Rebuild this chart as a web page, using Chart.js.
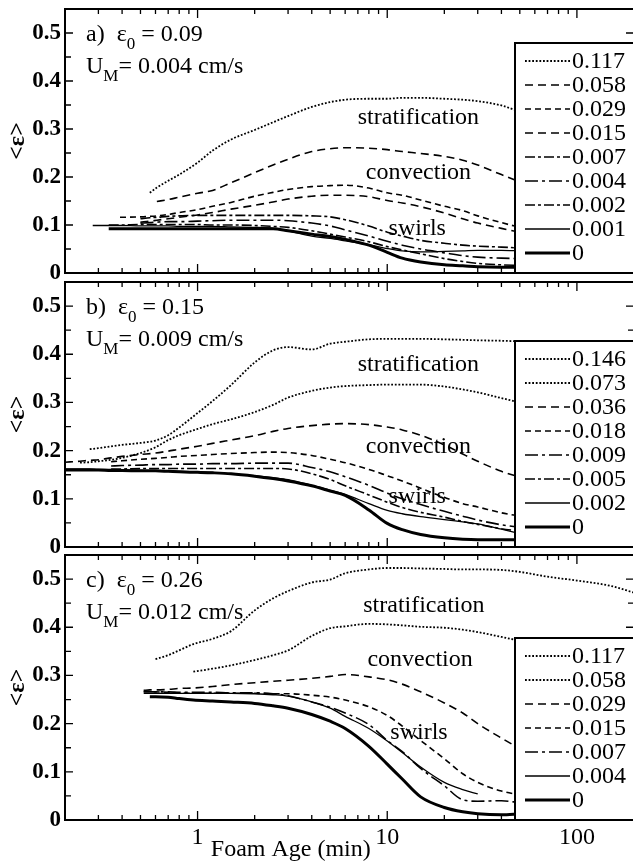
<!DOCTYPE html>
<html>
<head>
<meta charset="utf-8">
<script src="https://cdn.jsdelivr.net/npm/chart.js@4.4.1/dist/chart.umd.min.js"></script>
<style>
  html, body { margin: 0; padding: 0; background: #fff; overflow: hidden; }
  canvas { position: absolute; left: 0; top: 0; }
</style>
</head>
<body>
<canvas id="panelA" width="636" height="865"></canvas>
<canvas id="panelB" width="636" height="865"></canvas>
<canvas id="panelC" width="636" height="865"></canvas>
<script>
var n = null;

// ---- panel a: eps0 = 0.09, UM = 0.004 cm/s ----
var agesA = [0.28, 0.34, 0.39, 0.5, 0.56, 0.61, 0.7, 0.8, 1, 1.2, 1.5, 2, 2.5, 3, 4, 5, 6, 8, 10, 12, 15, 20, 25, 30, 40, 50];
var labelsA = ['0.117', '0.058', '0.029', '0.015', '0.007', '0.004', '0.002', '0.001', '0'];
var stylesA = ['dot', 'dashL', 'dash', 'dashL', 'dashDot', 'dashDotL', 'dashDot', 'thin', 'thick'];
var a117 = [n, n, n, n, 0.167, 0.178, 0.192, 0.205, 0.230, 0.255, 0.278, 0.298, 0.314, 0.327, 0.346, 0.356, 0.361, 0.363, 0.363, 0.365, 0.365, 0.363, 0.361, 0.358, 0.349, 0.336];
var a058 = [n, n, n, n, n, 0.149, 0.153, 0.158, 0.166, 0.172, 0.188, 0.209, 0.225, 0.237, 0.253, 0.259, 0.261, 0.260, 0.257, 0.253, 0.249, 0.243, 0.235, 0.225, 0.205, 0.190];
var a029 = [n, n, 0.116, 0.117, 0.118, 0.119, 0.122, 0.126, 0.132, 0.139, 0.147, 0.160, 0.168, 0.174, 0.180, 0.182, 0.183, 0.177, 0.167, 0.162, 0.152, 0.139, 0.130, 0.119, 0.105, 0.095];
var a015 = [n, n, n, 0.106, 0.108, 0.110, 0.113, 0.116, 0.121, 0.126, 0.133, 0.141, 0.148, 0.154, 0.160, 0.162, 0.162, 0.159, 0.151, 0.146, 0.138, 0.125, 0.113, 0.104, 0.093, 0.085];
var a007 = [n, n, n, 0.113, 0.115, 0.116, 0.118, 0.119, 0.120, 0.120, 0.120, 0.120, 0.120, 0.120, 0.119, 0.117, 0.111, 0.098, 0.085, 0.077, 0.068, 0.062, 0.058, 0.056, 0.054, 0.052];
var a004 = [n, n, n, 0.104, 0.105, 0.106, 0.107, 0.107, 0.108, 0.109, 0.110, 0.110, 0.110, 0.109, 0.104, 0.098, 0.090, 0.077, 0.066, 0.058, 0.050, 0.042, 0.036, 0.033, 0.031, 0.030];
var a002 = [n, 0.100, 0.100, 0.101, 0.101, 0.101, 0.101, 0.101, 0.101, 0.100, 0.100, 0.099, 0.097, 0.095, 0.088, 0.081, 0.075, 0.065, 0.055, 0.048, 0.040, 0.030, 0.024, 0.020, 0.017, 0.016];
var a001 = [0.099, 0.099, 0.099, 0.098, 0.098, 0.098, 0.098, 0.097, 0.097, 0.097, 0.096, 0.095, 0.093, 0.088, 0.077, 0.072, 0.067, 0.059, 0.051, 0.046, 0.044, 0.045, 0.046, 0.047, 0.047, 0.046];
var a0 = [n, 0.092, 0.092, 0.092, 0.092, 0.092, 0.092, 0.092, 0.092, 0.092, 0.092, 0.092, 0.092, 0.088, 0.081, 0.076, 0.070, 0.058, 0.043, 0.031, 0.023, 0.017, 0.015, 0.013, 0.012, 0.012];

// ---- panel b: eps0 = 0.15, UM = 0.009 cm/s ----
var agesB = [0.2, 0.24, 0.27, 0.3, 0.35, 0.4, 0.5, 0.6, 0.7, 0.8, 1, 1.2, 1.5, 2, 2.5, 3, 4, 5, 6, 8, 10, 12, 15, 20, 25, 30, 40, 50];
var labelsB = ['0.146', '0.073', '0.036', '0.018', '0.009', '0.005', '0.002', '0'];
var stylesB = ['dot', 'dot', 'dashL', 'dash', 'dashDotL', 'dashDot', 'thin', 'thick'];
var b146 = [n, n, 0.203, 0.205, 0.209, 0.212, 0.216, 0.221, 0.232, 0.248, 0.278, 0.303, 0.336, 0.383, 0.408, 0.415, 0.410, 0.422, 0.426, 0.431, 0.432, 0.432, 0.432, 0.431, 0.430, 0.429, 0.428, 0.427];
var b073 = [n, 0.175, 0.176, 0.178, 0.181, 0.185, 0.195, 0.207, 0.222, 0.232, 0.245, 0.255, 0.265, 0.280, 0.295, 0.310, 0.324, 0.331, 0.334, 0.336, 0.337, 0.337, 0.337, 0.333, 0.327, 0.321, 0.309, 0.300];
var b036 = [0.176, 0.178, 0.180, 0.181, 0.185, 0.188, 0.192, 0.195, 0.199, 0.203, 0.209, 0.215, 0.222, 0.231, 0.240, 0.246, 0.252, 0.255, 0.256, 0.254, 0.249, 0.243, 0.232, 0.212, 0.193, 0.178, 0.157, 0.145];
var b018 = [n, n, n, n, 0.177, 0.179, 0.182, 0.184, 0.186, 0.188, 0.190, 0.192, 0.194, 0.196, 0.197, 0.196, 0.190, 0.182, 0.175, 0.161, 0.148, 0.137, 0.122, 0.103, 0.090, 0.083, 0.071, 0.064];
var b009 = [n, n, n, n, 0.168, 0.169, 0.170, 0.171, 0.171, 0.172, 0.172, 0.173, 0.173, 0.174, 0.174, 0.174, 0.165, 0.156, 0.146, 0.128, 0.112, 0.100, 0.088, 0.074, 0.064, 0.056, 0.046, 0.041];
var b005 = [n, n, n, n, 0.162, 0.162, 0.163, 0.163, 0.163, 0.163, 0.163, 0.163, 0.163, 0.163, 0.163, 0.162, 0.152, 0.140, 0.127, 0.108, 0.093, 0.082, 0.072, 0.062, 0.053, 0.047, 0.038, 0.033];
var b002 = [0.162, 0.162, 0.162, 0.161, 0.161, 0.160, 0.159, 0.158, 0.158, 0.157, 0.156, 0.155, 0.152, 0.148, 0.144, 0.140, 0.128, 0.118, 0.109, 0.090, 0.076, 0.069, 0.063, 0.057, 0.052, 0.048, 0.037, 0.028];
var b0 = [0.160, 0.160, 0.160, 0.160, 0.159, 0.159, 0.158, 0.158, 0.157, 0.156, 0.155, 0.154, 0.152, 0.147, 0.142, 0.137, 0.127, 0.116, 0.107, 0.077, 0.049, 0.036, 0.026, 0.019, 0.016, 0.015, 0.015, 0.015];

// ---- panel c: eps0 = 0.26, UM = 0.012 cm/s ----
var agesC = [0.52, 0.56, 0.6, 0.7, 0.8, 0.95, 1.2, 1.5, 2, 2.5, 3, 4, 5, 6, 8, 10, 12, 15, 20, 25, 30, 40, 50, 70, 100, 150, 200];
var labelsC = ['0.117', '0.058', '0.029', '0.015', '0.007', '0.004', '0'];
var stylesC = ['dot', 'dot', 'dashL', 'dash', 'dashDotL', 'thin', 'thick'];
var c117 = [n, n, 0.334, 0.342, 0.352, 0.365, 0.376, 0.392, 0.435, 0.460, 0.475, 0.493, 0.499, 0.512, 0.520, 0.523, 0.523, 0.522, 0.521, 0.520, 0.520, 0.519, 0.515, 0.505, 0.497, 0.486, 0.472];
var c058 = [n, n, n, n, n, 0.308, 0.314, 0.321, 0.332, 0.342, 0.352, 0.382, 0.398, 0.402, 0.407, 0.406, 0.404, 0.401, 0.399, 0.395, 0.390, 0.380, 0.372, n, n, n, n];
var c029 = [0.269, 0.270, 0.270, 0.271, 0.273, 0.274, 0.277, 0.281, 0.285, 0.288, 0.290, 0.294, 0.298, 0.302, 0.297, 0.291, 0.282, 0.266, 0.243, 0.222, 0.200, 0.170, 0.148, n, n, n, n];
var c015 = [0.267, 0.267, 0.266, 0.265, 0.264, 0.263, 0.263, 0.263, 0.263, 0.262, 0.262, 0.259, 0.255, 0.249, 0.235, 0.217, 0.195, 0.165, 0.127, 0.096, 0.078, 0.060, 0.052, n, n, n, n];
var c007 = [0.266, 0.266, 0.266, 0.266, 0.265, 0.265, 0.265, 0.264, 0.264, 0.262, 0.258, 0.245, 0.234, 0.222, 0.198, 0.165, 0.142, 0.107, 0.071, 0.042, 0.039, 0.040, 0.036, n, n, n, n];
var c004 = [0.263, 0.263, 0.263, 0.263, 0.263, 0.263, 0.263, 0.263, 0.262, 0.260, 0.257, 0.245, 0.232, 0.215, 0.190, 0.164, 0.140, 0.110, 0.078, 0.063, 0.054, n, n, n, n, n, n];
var c0 = [n, 0.256, 0.256, 0.255, 0.252, 0.249, 0.247, 0.245, 0.242, 0.237, 0.232, 0.219, 0.205, 0.190, 0.153, 0.116, 0.085, 0.048, 0.026, 0.017, 0.013, 0.011, 0.013, n, n, n, n];

var xTickValues = [1, 10, 100];

var lineStyles = {
  dot:      { dash: [1.8, 1.8], width: 1.8 },
  dashL:    { dash: [8, 5], width: 1.6 },
  dash:     { dash: [6, 4], width: 1.6 },
  dashDot:  { dash: [10, 3, 3, 3], width: 1.6 },
  dashDotL: { dash: [13, 4, 3, 4], width: 1.6 },
  thin:     { dash: [], width: 1.3 },
  thick:    { dash: [], width: 3 }
};

var FONT = '"Liberation Serif", "Times New Roman", serif';

function makeSets(ages, labels, styles, series) {
  return series.map(function (vals, i) {
    var st = lineStyles[styles[i]];
    return {
      label: labels[i],
      data: ages.map(function (a, j) { return { x: a, y: vals[j] }; }),
      borderColor: '#000',
      borderWidth: st.width,
      borderDash: st.dash,
      pointRadius: 0,
      fill: false,
      cubicInterpolationMode: 'monotone'
    };
  });
}

// frame, inward ticks, boxed legend and the text notes
var decoPlugin = {
  id: 'deco',
  afterDatasetsDraw: function (chart, args, opts) {
    var ctx = chart.ctx, ca = chart.chartArea;
    var xs = chart.scales.x, ys = chart.scales.y;
    ctx.save();
    ctx.strokeStyle = '#000';
    ctx.fillStyle = '#000';
    ctx.setLineDash([]);

    ctx.lineWidth = 1.3;
    ctx.beginPath();
    for (var k = 1; k <= 11; k++) {
      var v = k * 0.05;
      if (v >= ys.max - 1e-9) continue;
      var py = ys.getPixelForValue(v);
      var len = k % 2 === 0 ? 8 : 6;
      ctx.moveTo(ca.left, py); ctx.lineTo(ca.left + len, py);
      ctx.moveTo(ca.right, py); ctx.lineTo(ca.right - len, py);
    }
    [0.1, 1, 10, 100].forEach(function (d) {
      for (var m = 1; m <= 9; m++) {
        var xv = m * d;
        if (xv <= xs.min * 1.001 || xv >= xs.max * 0.999) continue;
        var px = xs.getPixelForValue(xv);
        var l = m === 1 ? 9 : 5;
        ctx.moveTo(px, ca.bottom); ctx.lineTo(px, ca.bottom - l);
        ctx.moveTo(px, ca.top); ctx.lineTo(px, ca.top + l);
      }
    });
    ctx.stroke();

    ctx.lineWidth = 2;
    ctx.strokeRect(ca.left, ca.top, ca.right - ca.left, ca.bottom - ca.top);

    // legend box
    var sets = chart.data.datasets;
    var boxLeft = ca.right - 119;
    var boxTop = ca.bottom - (38 + (sets.length - 1) * 24);
    ctx.fillStyle = '#fff';
    ctx.fillRect(boxLeft, boxTop, ca.right + 10 - boxLeft, ca.bottom - boxTop);
    ctx.strokeRect(boxLeft, boxTop, ca.right + 10 - boxLeft, ca.bottom - boxTop);
    ctx.fillStyle = '#000';
    ctx.font = '24px ' + FONT;
    ctx.textBaseline = 'middle';
    ctx.textAlign = 'left';
    sets.forEach(function (ds, i) {
      var cy = boxTop + 18 + i * 24;
      ctx.setLineDash(ds.borderDash);
      ctx.lineWidth = ds.borderWidth;
      ctx.beginPath();
      ctx.moveTo(boxLeft + 10, cy); ctx.lineTo(boxLeft + 55, cy);
      ctx.stroke();
      ctx.setLineDash([]);
      ctx.fillText(ds.label, boxLeft + 57, cy + 1);
    });

    // panel title lines
    ctx.textBaseline = 'alphabetic';
    var tx = ca.left + 21, ty = ca.top + 32;
    var s1 = opts.tag + '  \u03b5';
    ctx.font = '24px ' + FONT;
    ctx.fillText(s1, tx, ty);
    var w = ctx.measureText(s1).width;
    ctx.font = '17px ' + FONT;
    ctx.fillText('0', tx + w, ty + 8);
    w += ctx.measureText('0').width;
    ctx.font = '24px ' + FONT;
    ctx.fillText(' = ' + opts.eps0, tx + w, ty);

    var ty2 = ca.top + 64;
    ctx.fillText('U', tx, ty2);
    w = ctx.measureText('U').width;
    ctx.font = '17px ' + FONT;
    ctx.fillText('M', tx + w, ty2 + 8);
    w += ctx.measureText('M').width;
    ctx.font = '24px ' + FONT;
    ctx.fillText('= ' + opts.um + ' cm/s', tx + w, ty2);

    // regime notes
    ctx.textAlign = 'center';
    ctx.textBaseline = 'middle';
    opts.notes.forEach(function (nt) {
      ctx.fillText(nt.text, xs.getPixelForValue(nt.x), ys.getPixelForValue(nt.y));
    });

    // y title
    ctx.save();
    ctx.translate(18, (ca.top + ca.bottom) / 2);
    ctx.rotate(-Math.PI / 2);
    ctx.font = 'bold 24px ' + FONT;
    ctx.fillText('<\u03b5>', 0, 0);
    ctx.restore();

    if (opts.xTitle) {
      ctx.font = '24px ' + FONT;
      ctx.fillText(opts.xTitle, xs.getPixelForValue(3.1), ca.bottom + 30);
    }
    ctx.restore();
  }
};

function makePanel(id, sets, pad, showX, deco) {
  return new Chart(document.getElementById(id), {
    type: 'line',
    data: { datasets: sets },
    plugins: [decoPlugin],
    options: {
      responsive: false,
      animation: false,
      devicePixelRatio: 1,
      layout: { padding: pad },
      plugins: { legend: { display: false }, tooltip: { enabled: false }, deco: deco },
      scales: {
        x: {
          type: 'logarithmic',
          min: 0.2,
          max: 200,
          display: showX,
          grid: { display: false, drawTicks: false },
          border: { display: false },
          afterBuildTicks: function (s) { s.ticks = xTickValues.map(function (v) { return { value: v }; }); },
          afterFit: function (s) {
            s.height = showX ? 45 : 0;
            s.paddingLeft = 0; s.paddingRight = 0;
          },
          ticks: {
            color: '#000',
            padding: 3,
            maxRotation: 0,
            font: { family: FONT, size: 24 },
            callback: function (v) { return String(v); }
          }
        },
        y: {
          min: 0,
          max: 0.55,
          grid: { display: false, drawTicks: false },
          border: { display: false },
          afterFit: function (s) {
            s.width = 65;
            s.paddingTop = 0; s.paddingBottom = 0;
          },
          ticks: {
            stepSize: 0.1,
            includeBounds: false,
            color: '#000',
            padding: 4,
            font: { family: FONT, size: 23, weight: 'bold' },
            callback: function (v) { return v === 0 ? '0' : v.toFixed(1); }
          }
        }
      }
    }
  });
}

makePanel('panelA',
  makeSets(agesA, labelsA, stylesA, [a117, a058, a029, a015, a007, a004, a002, a001, a0]),
  { top: 9, bottom: 592, left: 0, right: 2 }, false,
  { tag: 'a)', eps0: '0.09', um: '0.004',
    notes: [{ text: 'stratification', x: 14.6, y: 0.323 }, { text: 'convection', x: 14.6, y: 0.208 }, { text: 'swirls', x: 14.4, y: 0.092 }] });

makePanel('panelB',
  makeSets(agesB, labelsB, stylesB, [b146, b073, b036, b018, b009, b005, b002, b0]),
  { top: 282, bottom: 318, left: 0, right: 2 }, false,
  { tag: 'b)', eps0: '0.15', um: '0.009',
    notes: [{ text: 'stratification', x: 14.6, y: 0.379 }, { text: 'convection', x: 14.6, y: 0.208 }, { text: 'swirls', x: 14.4, y: 0.104 }] });

makePanel('panelC',
  makeSets(agesC, labelsC, stylesC, [c117, c058, c029, c015, c007, c004, c0]),
  { top: 555, bottom: 0, left: 0, right: 2 }, true,
  { tag: 'c)', eps0: '0.26', um: '0.012', xTitle: 'Foam Age (min)',
    notes: [{ text: 'stratification', x: 15.6, y: 0.444 }, { text: 'convection', x: 14.9, y: 0.333 }, { text: 'swirls', x: 14.7, y: 0.181 }] });
</script>
</body>
</html>
